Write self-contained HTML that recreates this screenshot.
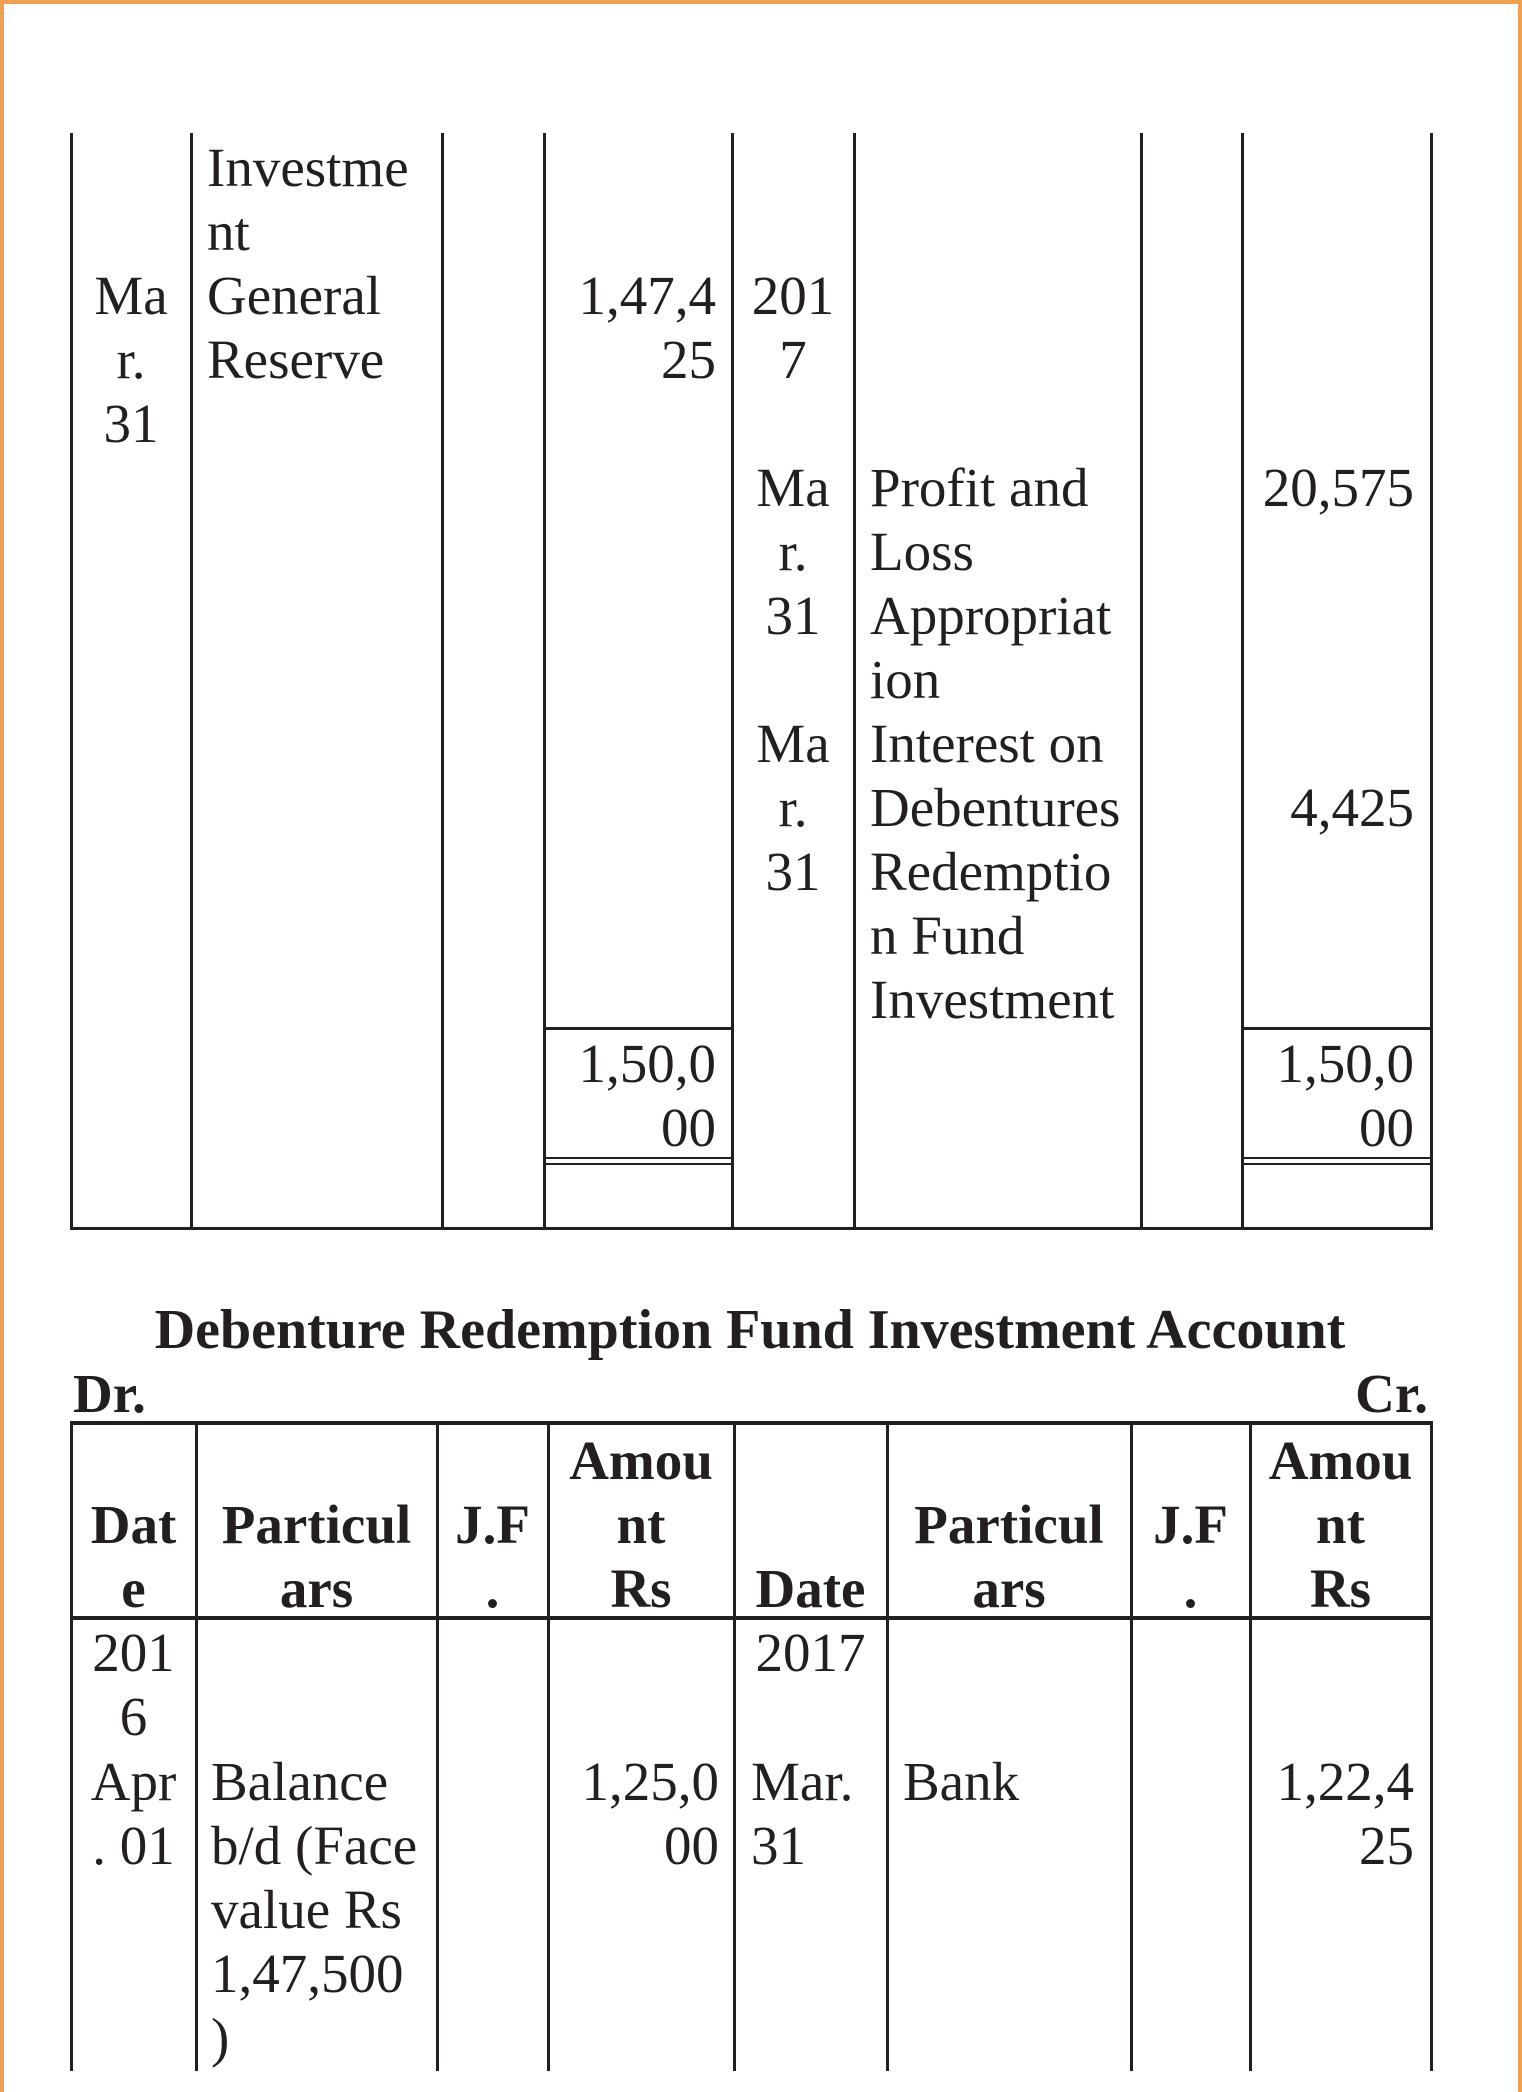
<!DOCTYPE html>
<html><head><meta charset="utf-8"><style>
html,body{margin:0;padding:0}
body{width:1522px;height:2092px;position:relative;background:#fff;overflow:hidden;font-family:"Liberation Serif",serif;color:#231f20}
.t{position:absolute;font-size:55px;line-height:64px;height:64px;white-space:nowrap}
.c{text-align:center}.r{text-align:right}.b{font-weight:bold}
.v{position:absolute;width:3px;background:#231f20}
.h{position:absolute;height:3px;background:#231f20}
</style></head><body>
<div style="position:absolute;left:0;top:0;width:1522px;height:4px;background:#f0a055"></div>
<div style="position:absolute;left:0;top:0;width:4px;height:2092px;background:#f0a055"></div>
<div style="position:absolute;right:0;top:0;width:4px;height:2092px;background:#f0a055"></div>

<div>
<div class="v" style="left:70px;top:133px;height:1097px"></div>
<div class="v" style="left:190px;top:133px;height:1097px"></div>
<div class="v" style="left:441px;top:133px;height:1097px"></div>
<div class="v" style="left:543px;top:133px;height:1097px"></div>
<div class="v" style="left:731px;top:133px;height:1097px"></div>
<div class="v" style="left:853px;top:133px;height:1097px"></div>
<div class="v" style="left:1140px;top:133px;height:1097px"></div>
<div class="v" style="left:1241px;top:133px;height:1097px"></div>
<div class="v" style="left:1430px;top:133px;height:1097px"></div>
<div class="h" style="left:70px;top:1227px;width:1363px"></div>
<div class="h" style="left:543px;top:1027px;width:190px"></div>
<div class="h" style="left:543px;top:1157px;width:190px;height:2px"></div>
<div class="h" style="left:543px;top:1163px;width:190px;height:2px"></div>
<div class="h" style="left:1241px;top:1027px;width:192px"></div>
<div class="h" style="left:1241px;top:1157px;width:192px;height:2px"></div>
<div class="h" style="left:1241px;top:1163px;width:192px;height:2px"></div>
</div>

<div>
<div class="t" style="left:207px;top:136px">Investme</div>
<div class="t" style="left:207px;top:200px">nt</div>
<div class="t c" style="left:71px;width:120px;top:264px">Ma</div>
<div class="t c" style="left:71px;width:120px;top:328px">r.</div>
<div class="t c" style="left:71px;width:120px;top:392px">31</div>
<div class="t" style="left:207px;top:264px">General</div>
<div class="t" style="left:207px;top:328px">Reserve</div>
<div class="t r" style="right:806px;top:264px">1,47,4</div>
<div class="t r" style="right:806px;top:328px">25</div>
<div class="t c" style="left:732px;width:122px;top:264px">201</div>
<div class="t c" style="left:732px;width:122px;top:328px">7</div>
<div class="t c" style="left:732px;width:122px;top:456px">Ma</div>
<div class="t c" style="left:732px;width:122px;top:520px">r.</div>
<div class="t c" style="left:732px;width:122px;top:584px">31</div>
<div class="t" style="left:870px;top:456px">Profit and</div>
<div class="t" style="left:870px;top:520px">Loss</div>
<div class="t" style="left:870px;top:584px">Appropriat</div>
<div class="t" style="left:870px;top:648px">ion</div>
<div class="t r" style="right:108px;top:456px">20,575</div>
<div class="t c" style="left:732px;width:122px;top:712px">Ma</div>
<div class="t c" style="left:732px;width:122px;top:776px">r.</div>
<div class="t c" style="left:732px;width:122px;top:840px">31</div>
<div class="t" style="left:870px;top:712px">Interest on</div>
<div class="t" style="left:870px;top:776px">Debentures</div>
<div class="t" style="left:870px;top:840px">Redemptio</div>
<div class="t" style="left:870px;top:904px">n Fund</div>
<div class="t" style="left:870px;top:968px">Investment</div>
<div class="t r" style="right:108px;top:776px">4,425</div>
<div class="t r" style="right:806px;top:1032px">1,50,0</div>
<div class="t r" style="right:806px;top:1096px">00</div>
<div class="t r" style="right:108px;top:1032px">1,50,0</div>
<div class="t r" style="right:108px;top:1096px">00</div>
</div>

<div class="t b c" style="left:0;width:1500px;top:1298px;font-size:56px">Debenture Redemption Fund Investment Account</div>
<div class="t b" style="left:73px;top:1362px">Dr.</div>
<div class="t b r" style="right:94px;top:1362px">Cr.</div>

<div>
<div class="h" style="left:70px;top:1421px;width:1363px;height:4px"></div>
<div class="h" style="left:70px;top:1616px;width:1363px;height:4px"></div>
<div class="v" style="left:70px;top:1421px;height:650px"></div>
<div class="v" style="left:195px;top:1421px;height:650px"></div>
<div class="v" style="left:436px;top:1421px;height:650px"></div>
<div class="v" style="left:547px;top:1421px;height:650px"></div>
<div class="v" style="left:733px;top:1421px;height:650px"></div>
<div class="v" style="left:886px;top:1421px;height:650px"></div>
<div class="v" style="left:1130px;top:1421px;height:650px"></div>
<div class="v" style="left:1249px;top:1421px;height:650px"></div>
<div class="v" style="left:1430px;top:1421px;height:650px"></div>
</div>

<div>
<div class="t b c" style="left:71px;width:125px;top:1493px">Dat</div>
<div class="t b c" style="left:71px;width:125px;top:1557px">e</div>
<div class="t b c" style="left:196px;width:241px;top:1493px">Particul</div>
<div class="t b c" style="left:196px;width:241px;top:1557px">ars</div>
<div class="t b c" style="left:437px;width:111px;top:1493px">J.F</div>
<div class="t b c" style="left:437px;width:111px;top:1557px">.</div>
<div class="t b c" style="left:548px;width:186px;top:1429px">Amou</div>
<div class="t b c" style="left:548px;width:186px;top:1493px">nt</div>
<div class="t b c" style="left:548px;width:186px;top:1557px">Rs</div>
<div class="t b c" style="left:734px;width:153px;top:1557px">Date</div>
<div class="t b c" style="left:887px;width:244px;top:1493px">Particul</div>
<div class="t b c" style="left:887px;width:244px;top:1557px">ars</div>
<div class="t b c" style="left:1131px;width:119px;top:1493px">J.F</div>
<div class="t b c" style="left:1131px;width:119px;top:1557px">.</div>
<div class="t b c" style="left:1250px;width:181px;top:1429px">Amou</div>
<div class="t b c" style="left:1250px;width:181px;top:1493px">nt</div>
<div class="t b c" style="left:1250px;width:181px;top:1557px">Rs</div>
</div>

<div>
<div class="t c" style="left:71px;width:125px;top:1621px">201</div>
<div class="t c" style="left:71px;width:125px;top:1685px">6</div>
<div class="t c" style="left:71px;width:125px;top:1750px">Apr</div>
<div class="t c" style="left:71px;width:125px;top:1814px">. 01</div>
<div class="t" style="left:211px;top:1750px">Balance</div>
<div class="t" style="left:211px;top:1814px">b/d (Face</div>
<div class="t" style="left:211px;top:1878px">value Rs</div>
<div class="t" style="left:211px;top:1942px">1,47,500</div>
<div class="t" style="left:211px;top:2006px">)</div>
<div class="t r" style="right:803px;top:1750px">1,25,0</div>
<div class="t r" style="right:803px;top:1814px">00</div>
<div class="t c" style="left:734px;width:153px;top:1621px">2017</div>
<div class="t" style="left:751px;top:1750px">Mar.</div>
<div class="t" style="left:751px;top:1814px">31</div>
<div class="t" style="left:903px;top:1750px">Bank</div>
<div class="t r" style="right:108px;top:1750px">1,22,4</div>
<div class="t r" style="right:108px;top:1814px">25</div>
</div>
</body></html>
